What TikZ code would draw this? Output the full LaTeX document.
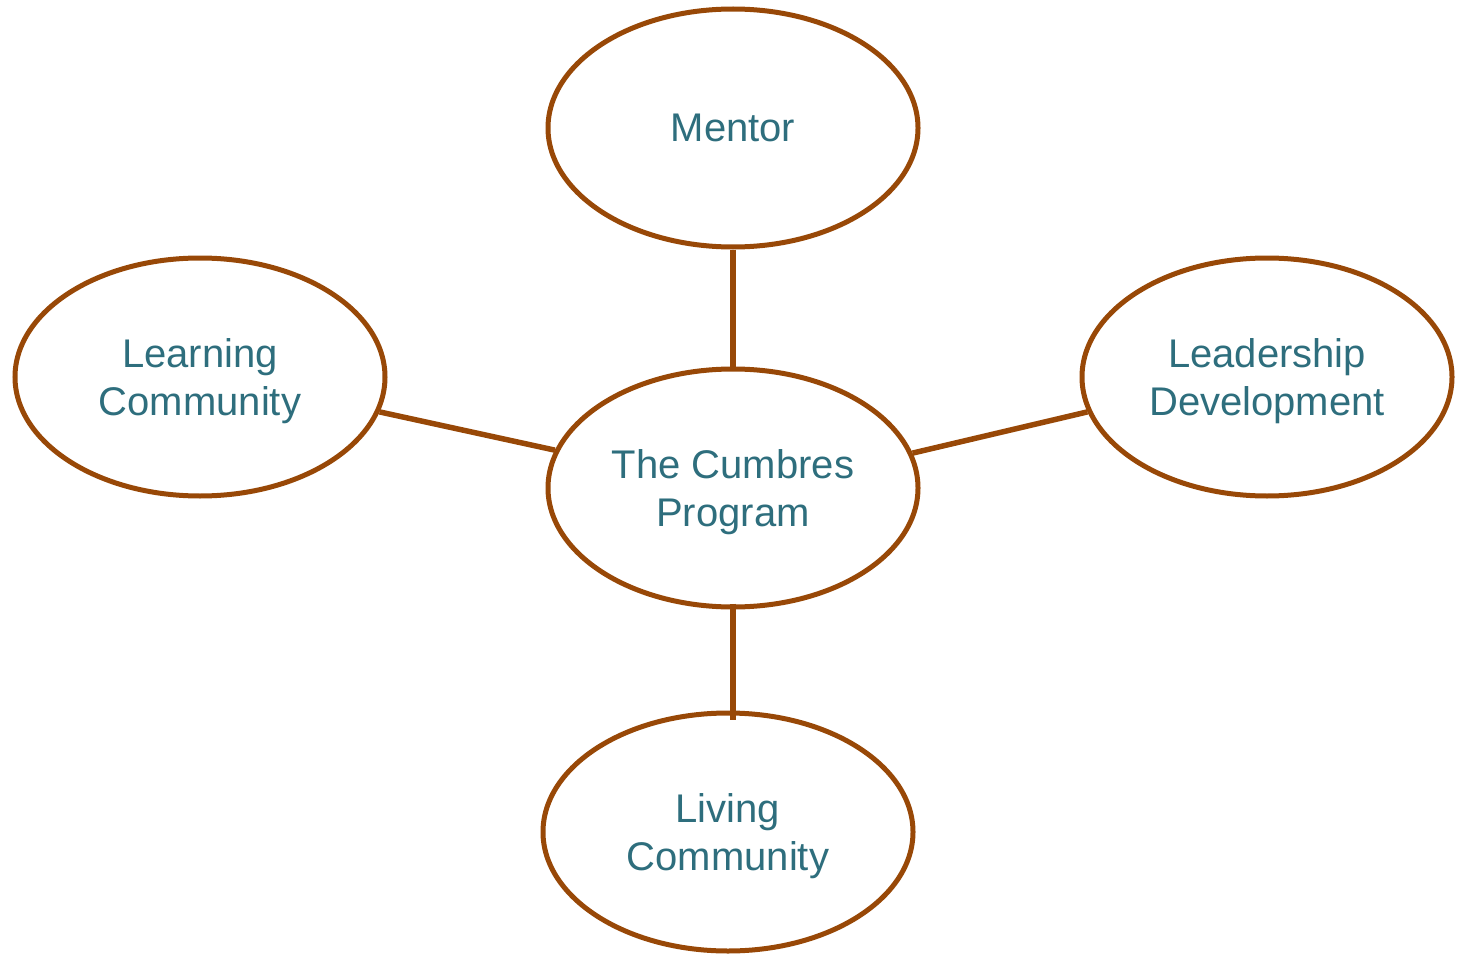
\documentclass[tikz,border=0pt]{standalone}
\usepackage{fontspec}
\setmainfont{Liberation Sans}
\usetikzlibrary{shapes.geometric}
\definecolor{brownline}{RGB}{152,72,7}
\definecolor{tealtext}{RGB}{46,110,125}
\tikzset{
  bubble/.style={ellipse, draw=brownline, line width=5pt, inner sep=0pt,
    minimum width=370pt, minimum height=238pt, text=tealtext, align=center,
    text depth=0pt, font=\fontsize{40}{48}\selectfont},
  link/.style={draw=brownline, line width=5.5pt}
}
\begin{document}
\begin{tikzpicture}[x=1pt,y=-1pt]
\useasboundingbox (0,0) rectangle (1462,955);
\node[bubble] (m) at (733,128) {Mentor};
\node[bubble] (lc) at (200,377) {Learning\\Community};
\node[bubble] (ld) at (1267,377) {Leadership\\Development};
\node[bubble] (c) at (733,488) {The Cumbres\\Program};
\node[bubble] (lv) at (728,832) {Living\\Community};
\draw[link] (m.south) -- (c.north);
\draw[link] (lc.-11.6) -- (c.168);
\draw[link] (c.11.8) -- (ld.191.7);
\draw[link, shorten <=-6pt, shorten >=-9pt] (c.south) -- (c.south |- lv.north);
\end{tikzpicture}
\end{document}
